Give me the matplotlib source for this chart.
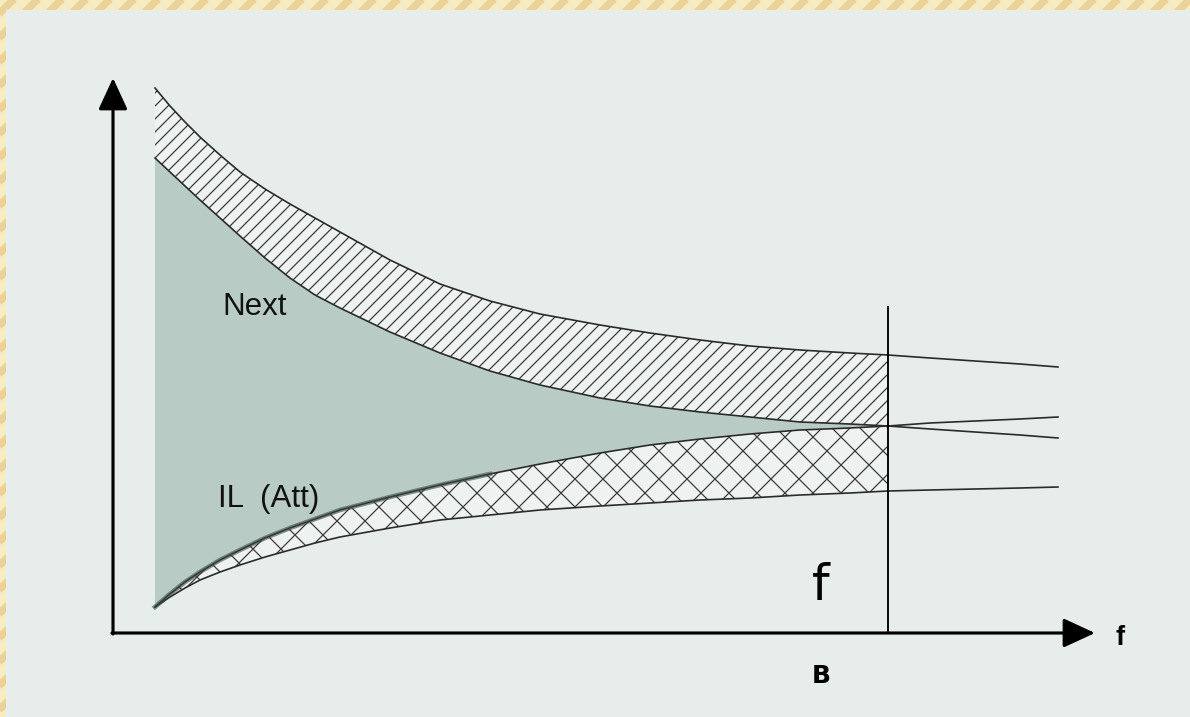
import numpy as np
import matplotlib.pyplot as plt
from matplotlib.patches import Rectangle
from matplotlib.collections import LineCollection

plt.rcParams['font.family'] = ['Liberation Sans', 'DejaVu Sans']

# 频率采样点（任意单位）
f = np.array([42, 57, 72, 87, 107, 127, 152, 177, 202, 227, 277, 327, 377, 427,
              487, 537, 587, 637, 687, 737, 775, 817, 862, 907, 945])
f_B = 775

# Next 上界 / 下界
next_hi = np.array([545, 527, 511, 496, 478, 461, 444, 429, 415, 401, 373, 349, 332, 319,
                    308, 300, 293, 287, 283, 280, 278, 275, 272, 269, 266])
next_lo = np.array([475, 461, 447, 433, 415, 397, 375, 355, 338, 325, 301, 280, 262, 248,
                    235, 227, 221, 216, 211, 209, 207, 204, 201, 198, 195])
# IL (Att) 上界 / 下界
il_hi = np.array([26, 39, 51, 61, 73, 83, 95, 105, 114, 123, 136, 148, 159, 169,
                  180, 188, 194, 199, 203, 205, 207, 210, 212, 214, 216])
il_lo = np.array([26, 36, 45, 53, 61, 68, 76, 83, 90, 96, 105, 113, 118, 123,
                  127, 130, 133, 135, 138, 140, 142, 143, 144, 145, 146])

W, H, dpi = 1190, 717, 150
fig = plt.figure(figsize=(W / dpi, H / dpi), dpi=dpi)
fig.patch.set_facecolor('#f7ebc2')

# 背景斜纹
bg = fig.add_axes([0, 0, 1, 1])
bg.set_xlim(0, W)
bg.set_ylim(H, 0)
bg.axis('off')
for x0 in range(-800, W + 50, 24):
    bg.plot([x0, x0 + 800], [H, H - 800], color='#e9cc8e', lw=3.5, alpha=0.8,
            solid_capstyle='butt')
bg.add_patch(Rectangle((6, 10), W, H, facecolor='#e6edea', edgecolor='none', zorder=10))

ax = fig.add_axes([0, 0, 1, 1])
ax.set_xlim(-113, W - 113)
ax.set_ylim(-(H - 633), 633)
ax.axis('off')

band = f <= f_B
line_c = '#2b2b2b'
hatch_c = '#3c3c3c'


def hatch(poly, step, slopes):
    # 手工画剖面线，裁剪到区域内
    segs = []
    for s in slopes:
        for c in np.arange(-1400, 1400, step):
            segs.append([(-200, s * (-200) + c), (1200, s * 1200 + c)])
    lc = LineCollection(segs, colors=hatch_c, linewidths=0.6, zorder=2)
    ax.add_collection(lc)
    lc.set_clip_path(poly.get_paths()[0], ax.transData)


# 阴影区
ax.fill_between(f[band], il_hi[band], next_lo[band], facecolor='#b8ccc5', edgecolor='none')
# Next 斜线带
p1 = ax.fill_between(f[band], next_lo[band], next_hi[band], facecolor='#eef2f0',
                     edgecolor='none')
hatch(p1, 13, [1])
# IL 网格带
p2 = ax.fill_between(f[band], il_lo[band], il_hi[band], facecolor='#eef2f0',
                     edgecolor='none')
hatch(p2, 28, [1, -1])

# 曲线
for y in (next_hi, next_lo, il_hi, il_lo):
    ax.plot(f, y, color=line_c, lw=0.8, zorder=3)
ax.plot(f[:13], il_hi[:13], color='#3a4a45', lw=2.2, alpha=0.6, zorder=3)

# B 处竖线
ax.plot([f_B, f_B], [0, 326], color='black', lw=0.9, zorder=4)

# 坐标轴箭头
arrow = dict(arrowstyle='-|>,head_length=0.65,head_width=0.3', lw=1.5, color='black',
             shrinkA=0, shrinkB=0, mutation_scale=20)
ax.annotate('', xy=(0, 555), xytext=(0, -1), arrowprops=arrow)
ax.annotate('', xy=(982, 0), xytext=(-1, 0), arrowprops=arrow)

# 文字
ax.text(109, 318, 'Next', fontsize=15, va='baseline', ha='left', color='#111111')
ax.text(105, 126, 'IL  (Att)', fontsize=15, va='baseline', ha='left', color='#111111')
ax.text(1002, -12, 'f', fontsize=13, fontweight='bold', va='baseline', ha='left',
        color='black')
ax.text(708, 33, 'f', fontsize=24, va='baseline', ha='center', color='black',
        family=['DejaVu Sans'])
ax.text(708, -50, 'B', fontsize=12, fontweight='bold', va='baseline', ha='center',
        color='black', family=['DejaVu Sans'])

fig.savefig('out.png', dpi=dpi, facecolor=fig.get_facecolor())
